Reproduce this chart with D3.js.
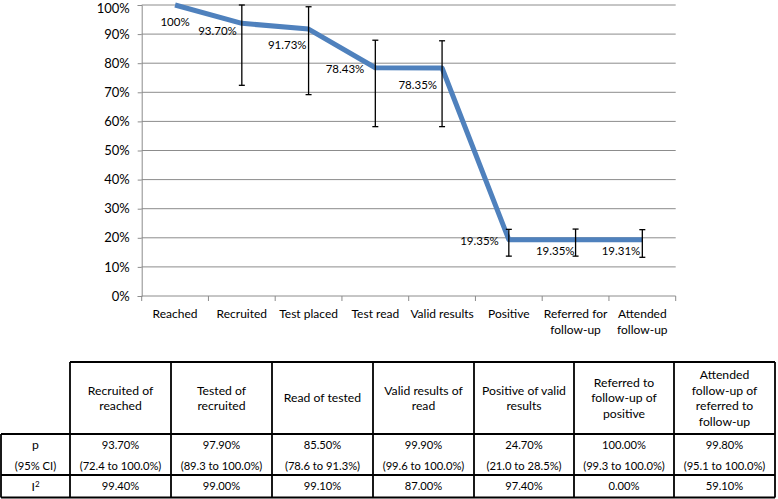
<!DOCTYPE html>
<html>
<head>
<meta charset="utf-8">
<script src="https://cdn.jsdelivr.net/npm/d3@7/dist/d3.min.js"></script>
<style>
  html, body { margin: 0; padding: 0; background: #fff; }
  svg { display: block; }
  text { font-family: Lato, "Open Sans", sans-serif; fill: #000; }
</style>
</head>
<body>
<svg id="chart" width="778" height="499"></svg>
<script>
// ---------- DATA ----------
const categories = ["Reached", "Recruited", "Test placed", "Test read", "Valid results", "Positive", "Referred for\nfollow-up", "Attended\nfollow-up"];
const values = [100, 93.70, 91.73, 78.43, 78.35, 19.35, 19.35, 19.31];
const valueLabels = ["100%", "93.70%", "91.73%", "78.43%", "78.35%", "19.35%", "19.35%", "19.31%"];
const errLow = [null, 72.4, 69.2, 58.2, 58.2, 13.7, 13.7, 13.3];
const errHigh = [null, 100, 99.4, 87.9, 87.7, 22.9, 23.0, 22.8];
const yTicks = [0, 10, 20, 30, 40, 50, 60, 70, 80, 90, 100];

const tableHeaders = ["Recruited of\nreached", "Tested of\nrecruited", "Read of tested", "Valid results of\nread", "Positive of valid\nresults", "Referred to\nfollow-up of\npositive", "Attended\nfollow-up of\nreferred to\nfollow-up"];
const pValues = ["93.70%", "97.90%", "85.50%", "99.90%", "24.70%", "100.00%", "99.80%"];
const pCI = ["(72.4 to 100.0%)", "(89.3 to 100.0%)", "(78.6 to 91.3%)", "(99.6 to 100.0%)", "(21.0 to 28.5%)", "(99.3 to 100.0%)", "(95.1 to 100.0%)"];
const i2Values = ["99.40%", "99.00%", "99.10%", "87.00%", "97.40%", "0.00%", "59.10%"];

// ---------- LAYOUT (label placement, not data) ----------
const labelPlace = [
  {anchor: "middle", dx: 0, dy: 17},
  {anchor: "end", dx: -5, dy: 8},
  {anchor: "end", dx: -2, dy: 16},
  {anchor: "end", dx: -11, dy: 1},
  {anchor: "end", dx: -5, dy: 17},
  {anchor: "end", dx: -10, dy: 1},
  {anchor: "end", dx: -1, dy: 11},
  {anchor: "end", dx: -2, dy: 11}
];

const svg = d3.select("#chart");

const plotLeft = 141.7, plotRight = 675.7, plotTop = 5, plotBottom = 296;
const x = d3.scaleBand().domain(categories).range([plotLeft, plotRight]).padding(0);
const y = d3.scaleLinear().domain([0, 100]).range([plotBottom, plotTop]);
const cx = c => x(c) + x.bandwidth() / 2;

// gridlines
svg.append("g")
  .selectAll("line").data(yTicks.filter(t => t > 0)).join("line")
  .attr("x1", plotLeft).attr("x2", plotRight)
  .attr("y1", d => y(d)).attr("y2", d => y(d))
  .attr("stroke", "#8c8c8c").attr("stroke-width", 1);

// y axis
const yAxis = svg.append("g").attr("transform", `translate(${plotLeft},0)`)
  .call(d3.axisLeft(y).tickValues(yTicks).tickFormat(d => d + "%").tickSize(4).tickPadding(8));
yAxis.select(".domain").attr("stroke", "#8c8c8c");
yAxis.selectAll(".tick line").attr("stroke", "#8c8c8c");
yAxis.selectAll("text").attr("font-size", "13px").attr("font-family", "Lato, sans-serif").attr("fill", "#000")
  .attr("dy", d => d === 100 ? "0.55em" : "0.32em");

// x axis
const xAxisG = svg.append("g").attr("transform", `translate(0,${plotBottom})`);
xAxisG.append("line").attr("x1", plotLeft).attr("x2", plotRight).attr("y1", 0).attr("y2", 0).attr("stroke", "#8c8c8c");
const bounds = categories.map(c => x(c)).concat([plotRight]);
xAxisG.selectAll("line.tk").data(bounds).join("line").attr("class", "tk")
  .attr("x1", d => d).attr("x2", d => d).attr("y1", 0).attr("y2", 5).attr("stroke", "#8c8c8c");
xAxisG.selectAll("text.cat").data(categories).join("text").attr("class", "cat")
  .attr("text-anchor", "middle").attr("font-size", "12px")
  .each(function(d) {
    const lines = d.split("\n");
    d3.select(this).selectAll("tspan").data(lines).join("tspan")
      .attr("x", cx(d)).attr("y", (l, i) => 21.5 + i * 16).text(l => l);
  });

// line
const line = d3.line().x((d, i) => cx(categories[i])).y(d => y(d));
svg.append("path").datum(values)
  .attr("d", line).attr("fill", "none")
  .attr("stroke", "#4f81bd").attr("stroke-width", 5)
  .attr("stroke-linejoin", "round");

// error bars
const eb = svg.append("g").attr("stroke", "#000").attr("stroke-width", 1.3);
categories.forEach((c, i) => {
  if (errLow[i] == null) return;
  const xx = cx(c);
  eb.append("line").attr("x1", xx).attr("x2", xx).attr("y1", y(errHigh[i])).attr("y2", y(errLow[i]));
  eb.append("line").attr("x1", xx - 3).attr("x2", xx + 3).attr("y1", y(errHigh[i])).attr("y2", y(errHigh[i]));
  eb.append("line").attr("x1", xx - 3).attr("x2", xx + 3).attr("y1", y(errLow[i])).attr("y2", y(errLow[i]));
});

// data labels
svg.append("g").selectAll("text").data(values).join("text")
  .attr("x", (d, i) => cx(categories[i]) + labelPlace[i].dx)
  .attr("y", (d, i) => y(d) + labelPlace[i].dy)
  .attr("dy", "0.35em")
  .attr("text-anchor", (d, i) => labelPlace[i].anchor)
  .attr("font-size", "11.5px")
  .text((d, i) => valueLabels[i]);

// ---------- TABLE ----------
const colEdges = [1, 70, 171, 272, 373, 474, 574, 674, 775];
const rowEdges = [362, 434, 475, 497.5];
const tbl = svg.append("g");
const fs = "12.2px";
const fsNum = "11.2px";
const lh = 15.5;

function multiline(g, str, xc, yc) {
  const lines = str.split("\n");
  const t = g.append("text").attr("text-anchor", "middle").attr("font-size", fs);
  lines.forEach((l, i) => {
    t.append("tspan").attr("x", xc).attr("y", yc + (i - (lines.length - 1) / 2) * lh).attr("dy", "0.35em").text(l);
  });
}

const headerMid = (rowEdges[0] + rowEdges[1]) / 2;
tableHeaders.forEach((h, i) => {
  const xc = (colEdges[i + 1] + colEdges[i + 2]) / 2;
  multiline(tbl, h, xc, headerMid);
  tbl.append("text").attr("x", xc).attr("y", 445).attr("dy", "0.35em").attr("text-anchor", "middle").attr("font-size", fsNum).text(pValues[i]);
  tbl.append("text").attr("x", xc).attr("y", 466).attr("dy", "0.35em").attr("text-anchor", "middle").attr("font-size", fsNum).text(pCI[i]);
  tbl.append("text").attr("x", xc).attr("y", 486.5).attr("dy", "0.35em").attr("text-anchor", "middle").attr("font-size", fsNum).text(i2Values[i]);
});
const rc = (colEdges[0] + colEdges[1]) / 2;
tbl.append("text").attr("x", rc).attr("y", 445).attr("dy", "0.35em").attr("text-anchor", "middle").attr("font-size", fs).text("p");
tbl.append("text").attr("x", rc).attr("y", 466).attr("dy", "0.35em").attr("text-anchor", "middle").attr("font-size", fsNum).text("(95% CI)");
const i2 = tbl.append("text").attr("x", rc).attr("y", 486.5).attr("dy", "0.35em").attr("text-anchor", "middle").attr("font-size", fs);
i2.append("tspan").text("I");
i2.append("tspan").attr("font-size", "8px").attr("dy", "-0.5em").text("2");

// borders
const bd = tbl.append("g").attr("stroke", "#000").attr("stroke-width", 1.8).attr("fill", "none");
bd.append("line").attr("x1", colEdges[1]).attr("x2", colEdges[8]).attr("y1", rowEdges[0]).attr("y2", rowEdges[0]);
for (let r = 1; r < rowEdges.length; r++) {
  bd.append("line").attr("x1", colEdges[0]).attr("x2", colEdges[8]).attr("y1", rowEdges[r]).attr("y2", rowEdges[r]);
}
bd.append("line").attr("x1", colEdges[0]).attr("x2", colEdges[0]).attr("y1", rowEdges[1]).attr("y2", rowEdges[3]);
for (let c = 1; c < colEdges.length; c++) {
  bd.append("line").attr("x1", colEdges[c]).attr("x2", colEdges[c]).attr("y1", rowEdges[0]).attr("y2", rowEdges[3]);
}
</script>
</body>
</html>
